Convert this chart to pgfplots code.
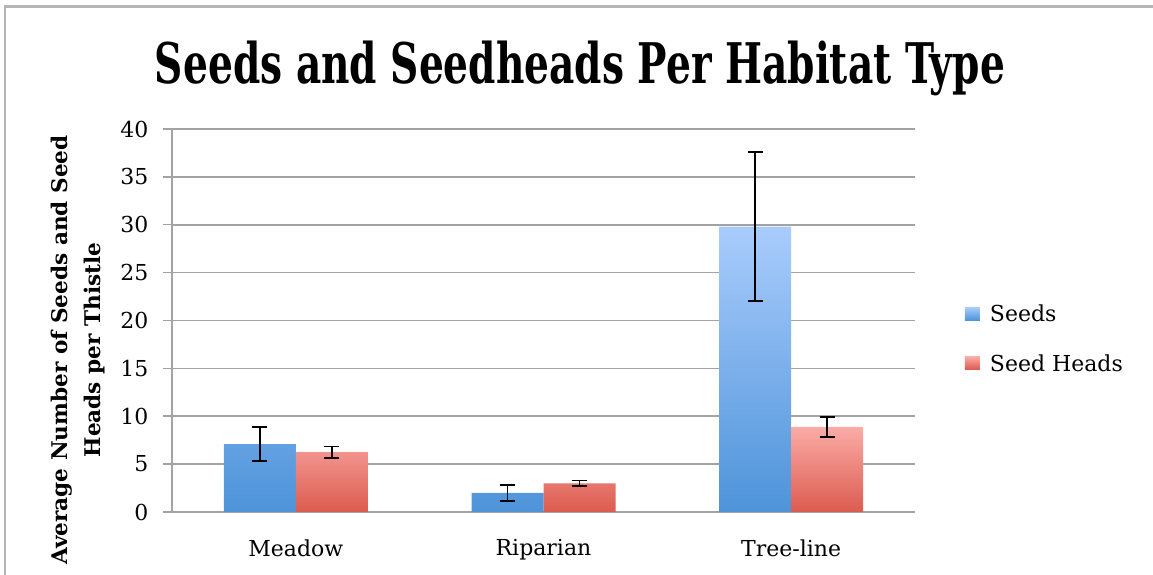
\documentclass[border=0pt]{standalone}
\usepackage{pgfplots}
\pgfplotsset{compat=1.18}
\usepackage{fontspec}
\setmainfont{DejaVu Serif}
\definecolor{seedtop}{HTML}{A9CCFC}
\definecolor{seedbot}{HTML}{4E93D9}
\definecolor{headtop}{HTML}{FBACA7}
\definecolor{headbot}{HTML}{DC5B4F}
\definecolor{gridc}{HTML}{A3A3A3}
\begin{document}
\begin{tikzpicture}
\useasboundingbox (-172pt,-63pt) rectangle (981pt,512pt);
\draw[gridc!80, line width=2.5pt] (-167pt,-63pt) -- (-167pt,505.5pt) -- (981pt,505.5pt);
\begin{axis}[
  at={(0pt,0pt)}, anchor=south west,
  scale only axis,
  width=743pt, height=383pt,
  xmin=-0.5, xmax=2.5,
  ymin=0, ymax=40,
  ytick={0,5,...,40},
  xtick={0,1,2},
  xticklabels={Meadow,Riparian,Tree-line},
  major x tick style={draw=none},
  extra x ticks={-0.5,0.5,1.5,2.5},
  extra x tick labels={},
  extra x tick style={major tick length=8pt, tick align=outside, tick style={draw=gridc, line width=1.5pt}},
  tick align=outside,
  major tick length=9pt,
  ytick style={draw=gridc, line width=1.5pt},
  ymajorgrids,
  grid style={draw=gridc, line width=1.6pt},
  axis x line*=bottom, axis y line*=left,
  axis line style={draw=gridc, line width=1.6pt, -},
  ticklabel style={font=\fontsize{22}{26}\selectfont},
  xticklabel style={yshift=-15pt},
  yticklabel style={xshift=-11pt},
  /pgf/number format/assume math mode=true,
  ybar=0pt, bar width=72pt,
  legend style={draw=none, fill=none, at={(1.067,0.452)}, anchor=west,
    font=\fontsize{22}{26}\selectfont, row sep=27pt, inner sep=0pt,
    /tikz/every odd column/.append style={column sep=8pt}},
  legend cell align=left,
  legend image code/.code={\path[#1, draw=none] (0pt,-6pt) rectangle (15pt,7pt);},
  error bars/y dir=both, error bars/y explicit,
  error bars/error bar style={black, line width=1.8pt},
  error bars/error mark options={rotate=90, mark size=7.5pt, black, line width=1.8pt},
]
\addplot[draw=none, top color=seedtop, bottom color=seedbot]
  coordinates {(0,7.1) +- (0,1.75) (1,2.0) +- (0,0.85) (2,29.8) +- (0,7.8)};
\addplot[draw=none, top color=headtop, bottom color=headbot]
  coordinates {(0,6.25) +- (0,0.6) (1,3.0) +- (0,0.3) (2,8.9) +- (0,1.05)};
\legend{Seeds, Seed Heads}
\end{axis}
\node[anchor=base] at (408pt,428pt) {\resizebox{850pt}{\height}{\fontsize{56}{62}\selectfont\bfseries Seeds and Seedheads Per Habitat Type}};
\node[rotate=90, align=center, font=\fontsize{21.6}{33}\selectfont\bfseries] at (-94pt,162pt) {Average Number of Seeds and Seed\\Heads per Thistle};
\end{tikzpicture}
\end{document}
